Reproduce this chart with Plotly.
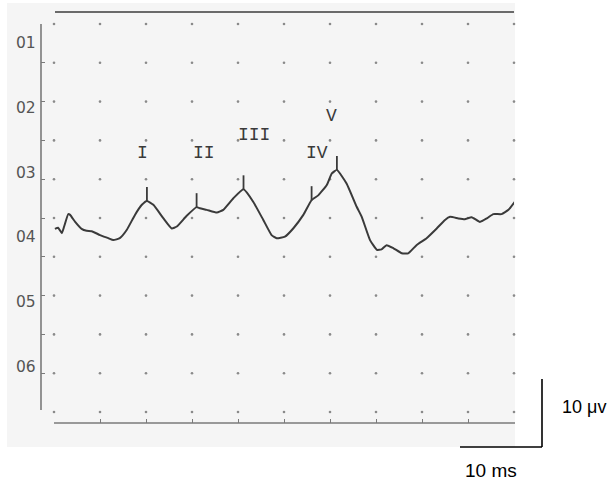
import numpy as np
import plotly.graph_objects as go

# ---- data (x: ms, y: grid divisions from bottom) ----
latency_ms = [0.02, 0.09, 0.17, 0.22, 0.31, 0.35, 0.46, 0.60, 0.71, 0.82, 1.00, 1.18, 1.29, 1.43,
              1.58, 1.76, 1.91, 2.02, 2.16, 2.38, 2.56, 2.67, 2.88, 3.10, 3.17, 3.32, 3.54, 3.68,
              3.90, 4.12, 4.33, 4.55, 4.73, 4.84, 5.02, 5.20, 5.42, 5.60, 5.75, 5.93, 6.04, 6.15,
              6.36, 6.58, 6.69, 6.87, 7.02, 7.12, 7.23, 7.38, 7.56, 7.70, 7.88, 8.10, 8.32, 8.50,
              8.61, 8.79, 8.93, 9.08, 9.26, 9.41, 9.55, 9.73, 9.88, 10.02]
amplitude = [4.72, 4.75, 4.61, 4.78, 5.10, 5.08, 4.90, 4.72, 4.67, 4.66, 4.56, 4.48, 4.43, 4.48,
             4.69, 5.08, 5.34, 5.44, 5.34, 4.99, 4.73, 4.78, 5.05, 5.28, 5.25, 5.21, 5.14, 5.21,
             5.51, 5.74, 5.42, 4.95, 4.56, 4.48, 4.52, 4.73, 5.08, 5.46, 5.59, 5.85, 6.15, 6.24,
             5.89, 5.29, 5.03, 4.43, 4.18, 4.19, 4.30, 4.22, 4.09, 4.09, 4.30, 4.48, 4.73, 4.95,
             5.03, 4.99, 4.97, 5.02, 4.90, 4.99, 5.10, 5.10, 5.21, 5.42]

peak_names = ["I", "II", "III", "IV", "V"]
peak_latency = [2.02, 3.10, 4.12, 5.60, 6.15]
peak_amplitude = [5.44, 5.28, 5.74, 5.46, 6.24]

y_tick_labels = ["01", "02", "03", "04", "05", "06"]
grid_cols = list(range(0, 11))
grid_rows = list(range(0, 11))

# ---- styling / layout constants ----
W, H = 612, 481
L, R, T, B = 41, 98, 12, 58
PW, PH = W - L - R, H - T - B
def px(xp):  # window pixel -> paper x
    return (xp - L) / PW
def py(yp):  # window pixel -> paper y
    return (T + PH - yp) / PH

XR = [(41 - 54) / 46, (514 - 54) / 46]
YR = [(412 - 423) / 38.8, (412 - 12) / 38.8]
MARK_LEN = 0.36
LINE_COL = "#3a3a3a"

fig = go.Figure()

# dot grid
gx, gy = np.meshgrid(grid_cols, grid_rows)
fig.add_trace(go.Scatter(x=gx.ravel(), y=gy.ravel(), mode="markers",
                         marker=dict(size=2.6, color="#8a8a8a"), cliponaxis=False,
                         hoverinfo="skip", showlegend=False))

# waveform
fig.add_trace(go.Scatter(x=latency_ms, y=amplitude, mode="lines",
                         line=dict(color=LINE_COL, width=2, shape="spline", smoothing=0.4),
                         showlegend=False))

# peak markers
mx, my = [], []
for lt, a in zip(peak_latency, peak_amplitude):
    mx += [lt, lt, None]
    my += [a, a + MARK_LEN, None]
fig.add_trace(go.Scatter(x=mx, y=my, mode="lines", line=dict(color=LINE_COL, width=1.8),
                         showlegend=False, hoverinfo="skip"))

# peak labels
label_offsets = [(-0.09, 1.24), (0.16, 1.40), (0.23, 1.40), (0.11, 1.22), (-0.11, 1.39)]
annotations = []
for name, lt, a, (dx, dy) in zip(peak_names, peak_latency, peak_amplitude, label_offsets):
    annotations.append(dict(x=lt + dx, y=a + dy, xref="x", yref="y", text=name,
                            showarrow=False, font=dict(family="Liberation Mono", size=18,
                                                       color="#3a3a3a")))

# y labels
for k, lab in enumerate(y_tick_labels):
    annotations.append(dict(x=0, y=10 - (0.5 + k * 5 / 3), xref="paper", yref="y", text=lab,
                            xanchor="right", yanchor="middle", xshift=-3, showarrow=False,
                            font=dict(family="DejaVu Sans", size=15.5, color="#555555")))

# scale bar labels
annotations.append(dict(x=px(560), y=py(407), xref="paper", yref="paper", text="10 μv",
                        xanchor="left", yanchor="middle", showarrow=False,
                        font=dict(family="Liberation Sans", size=18, color="#000")))
annotations.append(dict(x=px(491), y=py(470), xref="paper", yref="paper", text="10 ms",
                        xanchor="center", yanchor="middle", showarrow=False,
                        font=dict(family="Liberation Sans", size=19, color="#000")))

shapes = [
    # scanned paper background
    dict(type="rect", xref="paper", yref="paper", x0=px(7), x1=px(515), y0=py(447), y1=py(3),
         fillcolor="#f5f5f5", line=dict(width=0), layer="below"),
    # top line
    dict(type="line", xref="paper", yref="paper", x0=px(55), x1=px(514), y0=py(12), y1=py(12),
         line=dict(color="#6a6a6a", width=1.8)),
    # bottom line
    dict(type="line", xref="paper", yref="paper", x0=px(54), x1=px(515), y0=py(423), y1=py(423),
         line=dict(color="#7a7a7a", width=1.5)),
    # left axis line
    dict(type="line", xref="paper", yref="paper", x0=px(41), x1=px(41), y0=py(410), y1=py(24),
         line=dict(color="#7a7a7a", width=1.6)),
    # scale bar
    dict(type="line", xref="paper", yref="paper", x0=px(542), x1=px(542), y0=py(447), y1=py(379),
         line=dict(color="#000", width=1.6)),
    dict(type="line", xref="paper", yref="paper", x0=px(460), x1=px(542), y0=py(447), y1=py(447),
         line=dict(color="#000", width=1.6)),
]

fig.update_layout(
    width=W, height=H, margin=dict(l=L, r=R, t=T, b=B),
    paper_bgcolor="white", plot_bgcolor="rgba(0,0,0,0)",
    shapes=shapes, annotations=annotations, showlegend=False,
    xaxis=dict(range=XR, showgrid=False, zeroline=False, showline=False,
               tickvals=grid_cols[1:-1], ticks="inside", ticklen=4, tickwidth=1.3,
               tickcolor="#7a7a7a", showticklabels=False, fixedrange=True),
    yaxis=dict(range=YR, showgrid=False, zeroline=False, showline=False,
               tickvals=grid_rows[1:-1], ticks="inside", ticklen=4, tickwidth=1.3,
               tickcolor="#7a7a7a", showticklabels=False, fixedrange=True),
)

fig.write_html("out.html", config={"displayModeBar": False},
               post_script="document.body.style.margin='0';document.body.style.overflow='hidden';")
